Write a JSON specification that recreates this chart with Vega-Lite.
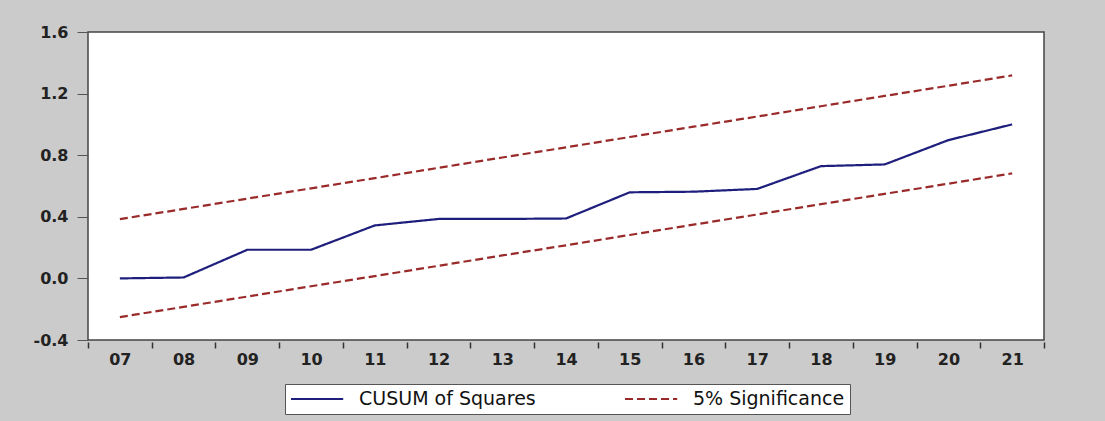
{
  "$schema": "https://vega.github.io/schema/vega-lite/v6.json",
  "autosize": {"type": "none"},
  "width": 956,
  "height": 308,
  "padding": {"left": 88, "top": 32, "right": 61, "bottom": 81},
  "background": "#cbcbcb",
  "config": {
    "view": {"fill": "white", "stroke": "#444444", "strokeWidth": 1.5},
    "font": "DejaVu Sans"
  },
  "datasets": {
    "lines": [
      {"year": "07", "series": "CUSUM of Squares", "line": "cusum", "value": 0.0},
      {"year": "08", "series": "CUSUM of Squares", "line": "cusum", "value": 0.006},
      {"year": "09", "series": "CUSUM of Squares", "line": "cusum", "value": 0.186},
      {"year": "10", "series": "CUSUM of Squares", "line": "cusum", "value": 0.186},
      {"year": "11", "series": "CUSUM of Squares", "line": "cusum", "value": 0.344},
      {"year": "12", "series": "CUSUM of Squares", "line": "cusum", "value": 0.386},
      {"year": "13", "series": "CUSUM of Squares", "line": "cusum", "value": 0.386},
      {"year": "14", "series": "CUSUM of Squares", "line": "cusum", "value": 0.389},
      {"year": "15", "series": "CUSUM of Squares", "line": "cusum", "value": 0.559},
      {"year": "16", "series": "CUSUM of Squares", "line": "cusum", "value": 0.563},
      {"year": "17", "series": "CUSUM of Squares", "line": "cusum", "value": 0.581},
      {"year": "18", "series": "CUSUM of Squares", "line": "cusum", "value": 0.729},
      {"year": "19", "series": "CUSUM of Squares", "line": "cusum", "value": 0.740},
      {"year": "20", "series": "CUSUM of Squares", "line": "cusum", "value": 0.898},
      {"year": "21", "series": "CUSUM of Squares", "line": "cusum", "value": 1.0},
      {"year": "07", "series": "5% Significance", "line": "upper", "value": 0.385},
      {"year": "08", "series": "5% Significance", "line": "upper", "value": 0.451},
      {"year": "09", "series": "5% Significance", "line": "upper", "value": 0.518},
      {"year": "10", "series": "5% Significance", "line": "upper", "value": 0.585},
      {"year": "11", "series": "5% Significance", "line": "upper", "value": 0.651},
      {"year": "12", "series": "5% Significance", "line": "upper", "value": 0.718},
      {"year": "13", "series": "5% Significance", "line": "upper", "value": 0.785},
      {"year": "14", "series": "5% Significance", "line": "upper", "value": 0.851},
      {"year": "15", "series": "5% Significance", "line": "upper", "value": 0.918},
      {"year": "16", "series": "5% Significance", "line": "upper", "value": 0.985},
      {"year": "17", "series": "5% Significance", "line": "upper", "value": 1.051},
      {"year": "18", "series": "5% Significance", "line": "upper", "value": 1.118},
      {"year": "19", "series": "5% Significance", "line": "upper", "value": 1.185},
      {"year": "20", "series": "5% Significance", "line": "upper", "value": 1.251},
      {"year": "21", "series": "5% Significance", "line": "upper", "value": 1.318},
      {"year": "07", "series": "5% Significance", "line": "lower", "value": -0.251},
      {"year": "08", "series": "5% Significance", "line": "lower", "value": -0.185},
      {"year": "09", "series": "5% Significance", "line": "lower", "value": -0.118},
      {"year": "10", "series": "5% Significance", "line": "lower", "value": -0.051},
      {"year": "11", "series": "5% Significance", "line": "lower", "value": 0.015},
      {"year": "12", "series": "5% Significance", "line": "lower", "value": 0.082},
      {"year": "13", "series": "5% Significance", "line": "lower", "value": 0.149},
      {"year": "14", "series": "5% Significance", "line": "lower", "value": 0.215},
      {"year": "15", "series": "5% Significance", "line": "lower", "value": 0.282},
      {"year": "16", "series": "5% Significance", "line": "lower", "value": 0.349},
      {"year": "17", "series": "5% Significance", "line": "lower", "value": 0.415},
      {"year": "18", "series": "5% Significance", "line": "lower", "value": 0.482},
      {"year": "19", "series": "5% Significance", "line": "lower", "value": 0.549},
      {"year": "20", "series": "5% Significance", "line": "lower", "value": 0.615},
      {"year": "21", "series": "5% Significance", "line": "lower", "value": 0.682}
    ]
  },
  "data": {"name": "lines"},
  "encoding": {
    "x": {
      "field": "year",
      "type": "ordinal",
      "scale": {"paddingInner": 0, "paddingOuter": 0},
      "axis": {
        "title": null,
        "labelAngle": 0,
        "tickBand": "extent",
        "domain": false,
        "tickSize": 6,
        "tickColor": "#333333",
        "tickWidth": 1.5,
        "offset": 2,
        "labelPadding": 3,
        "labelFont": "DejaVu Sans",
        "labelFontWeight": "bold",
        "labelFontSize": 16,
        "labelColor": "#222222"
      }
    }
  },
  "layer": [
    {
      "mark": {"type": "rule", "color": "#888888", "strokeWidth": 1.2},
      "encoding": {"y": {"datum": 0}}
    },
    {
      "mark": {"type": "line", "strokeWidth": 2.2},
      "encoding": {
        "y": {
          "field": "value",
          "type": "quantitative",
          "scale": {"domain": [-0.4, 1.6], "nice": false, "zero": false},
          "axis": {
            "title": null,
            "values": [-0.4, 0, 0.4, 0.8, 1.2, 1.6],
            "labelExpr": "replace(format(datum.value, '.1f'), '\u2212', '-')",
            "grid": false,
            "domain": false,
            "tickSize": 11,
            "tickColor": "#555555",
            "labelPadding": 9,
            "labelFont": "DejaVu Sans",
            "labelFontWeight": "bold",
            "labelFontSize": 16,
            "labelColor": "#222222"
          }
        },
        "color": {
          "field": "series",
          "type": "nominal",
          "scale": {"domain": ["CUSUM of Squares", "5% Significance"], "range": ["#1e1e7c", "#9a2a2a"]},
          "legend": {
            "title": null,
            "orient": "none",
            "legendX": 197,
            "legendY": 352,
            "direction": "horizontal",
            "fillColor": "white",
            "strokeColor": "#555555",
            "padding": 5,
            "symbolType": "M-1,0H4.8",
            "symbolSize": 324,
            "symbolStrokeWidth": 2,
            "symbolOffset": 0,
            "labelFont": "DejaVu Sans",
            "labelFontSize": 19,
            "labelColor": "#111111",
            "labelOffset": 49,
            "columnPadding": 85,
            "labelLimit": 400
          }
        },
        "strokeDash": {
          "field": "series",
          "type": "nominal",
          "scale": {"domain": ["CUSUM of Squares", "5% Significance"], "range": [[1, 0], [8, 4]]},
          "legend": null
        },
        "detail": {"field": "line", "type": "nominal"}
      }
    }
  ]
}
